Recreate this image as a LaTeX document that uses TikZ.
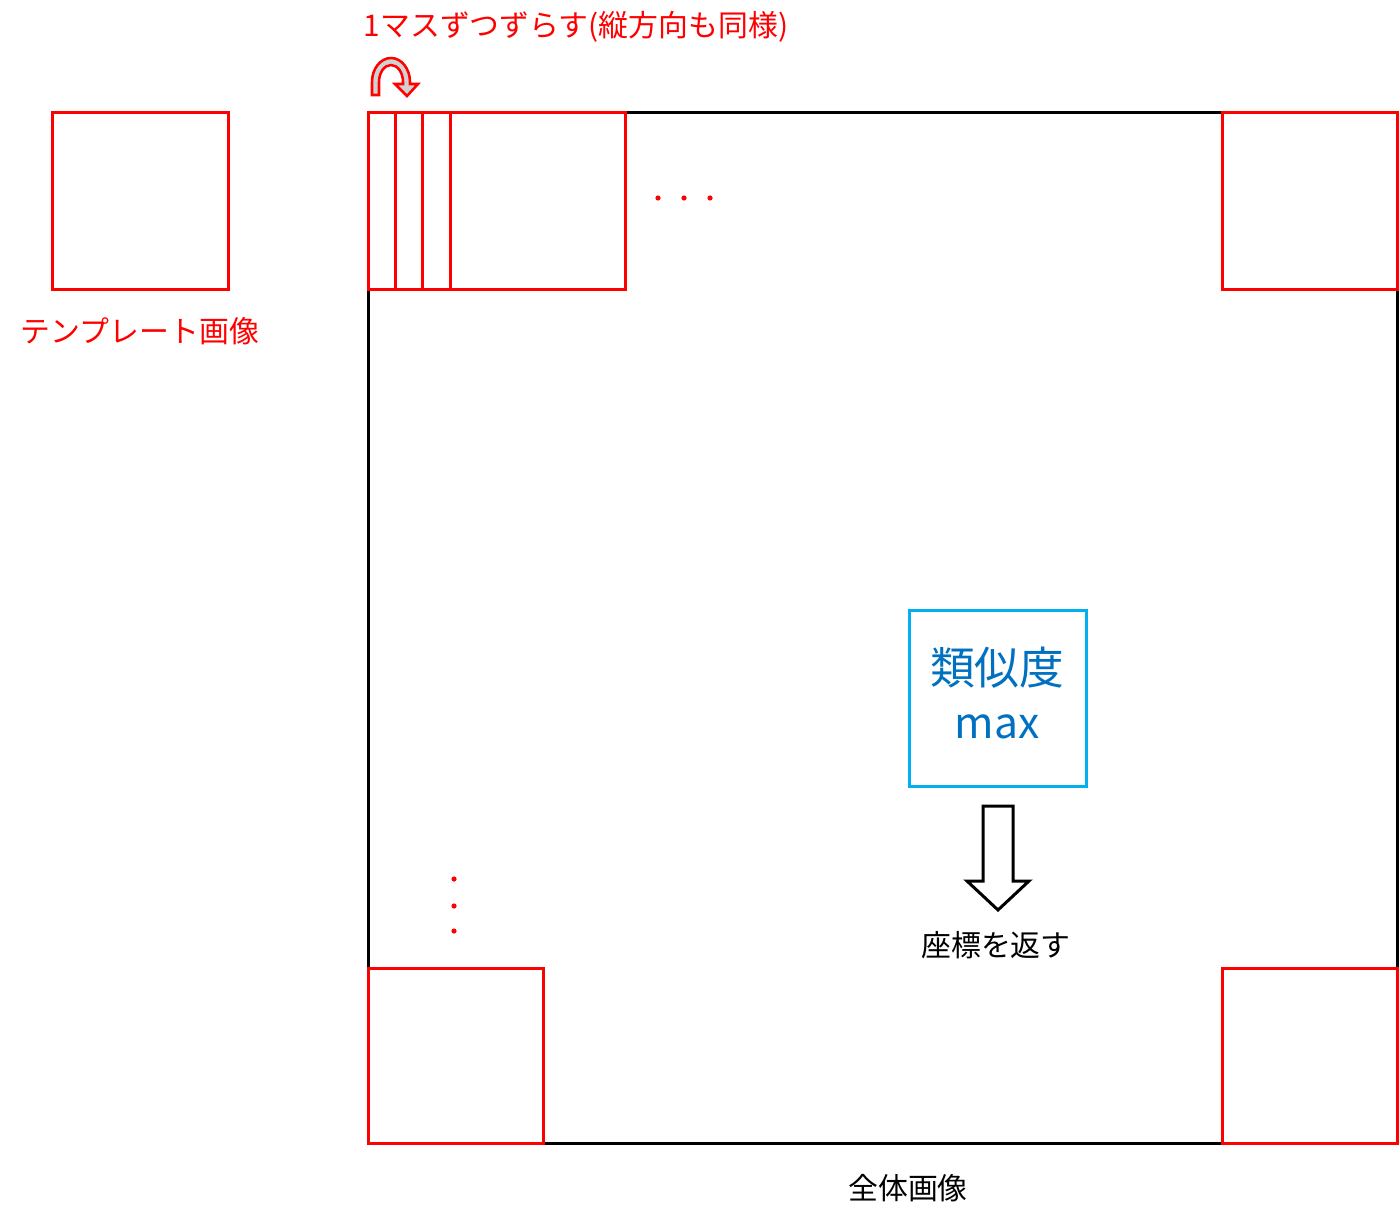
\documentclass[tikz,border=0pt]{standalone}
\usepackage{fontspec}
\setmainfont{Noto Sans CJK JP}
\definecolor{pred}{RGB}{255,0,0}
\definecolor{pblue}{RGB}{0,176,240}
\definecolor{ptext}{RGB}{0,112,192}
\begin{document}
\begin{tikzpicture}[x=0.75pt,y=-0.75pt,
  redbox/.style={draw=pred,line width=2.25pt},
  blackbox/.style={draw=black,line width=2.25pt},
  lbl/.style={inner sep=0pt,font=\fontsize{22.4pt}{26pt}\selectfont},
  reddot/.style={fill=pred,draw=none}]
\useasboundingbox (0,0) rectangle (1400,1227);
% whole image
\draw[blackbox] (368,113) rectangle (1397,1143);
% template
\draw[redbox] (52,113) rectangle (228,289);
\node[lbl,text=pred] (tmpl) at (140,331) {テンプレート画像};
% top-left sliding windows
\draw[redbox] (368,113) rectangle (625,289);
\draw[redbox] (395,113) -- (395,289);
\draw[redbox] (422,113) -- (422,289);
\draw[redbox] (450,113) -- (450,289);
% corners
\draw[redbox] (1222,113) rectangle (1397,289);
\draw[redbox] (368,968) rectangle (543,1143);
\draw[redbox] (1222,968) rectangle (1397,1143);
% dots
\foreach \x in {658,684,710} \fill[reddot] (\x,198) circle[radius=2.6];
\foreach \y in {879,906,931} \fill[reddot] (454,\y) circle[radius=2.6];
% top label
\node[lbl,text=pred] (shift) at (576,27) {1マスずつずらす(縦方向も同様)};
% curved arrow
\draw[draw=pred,fill=black!18,line width=1.9pt,line join=miter]
  (372,95) -- (372,82) arc[start angle=180,end angle=360,x radius=19,y radius=24]
  -- (410,84) -- (418,84) -- (407,96) -- (395,84) -- (403,84) -- (403,82)
  arc[start angle=360,end angle=180,x radius=12,y radius=17] -- (379,95) -- cycle;
% similarity box
\draw[draw=pblue,line width=2.25pt] (909,610) rectangle (1086,786);
\node[inner sep=0pt,text=ptext,font=\fontsize{33.5pt}{36pt}\selectfont] (sim) at (997,668) {類似度};
\node[inner sep=0pt,text=ptext,font=\fontsize{32pt}{36pt}\selectfont] (mx) at (997,727) {max};
% hollow arrow
\draw[black,line width=2.25pt,fill=white,line join=miter]
  (983,806) -- (1013,806) -- (1013,881) -- (1029,881) -- (998,910)
  -- (967,881) -- (983,881) -- cycle;
\node[lbl,text=black] (ret) at (996,945) {座標を返す};
\node[lbl,text=black] (whole) at (908,1188) {全体画像};
\end{tikzpicture}
\end{document}
